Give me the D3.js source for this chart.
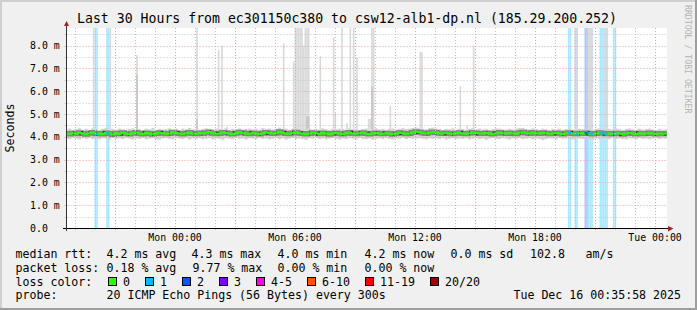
<!DOCTYPE html>
<html>
<head>
<meta charset="utf-8">
<script src="https://cdn.jsdelivr.net/npm/d3@7"></script>
<style>
body { margin: 0; background: #ffffff; }
svg { display: block; font-family: "DejaVu Sans Mono", monospace; }
</style>
</head>
<body>
<div id="chart"></div>
<script>
var titleText = "Last 30 Hours from ec301150c380 to csw12-alb1-dp.nl (185.29.200.252)";
var graphStart = "2025-12-14 18:35:58";
var graphEnd = "2025-12-16 00:35:58";

// 10 minute steps, first one starts here
var stepStart = "2025-12-14 18:30";

// median rtt in ms
var median = [
4.15,4.12,4.16,4.13,4.18,4.14,4.11,4.16,4.19,4.13,
4.15,4.12,4.17,4.14,4.10,4.16,4.13,4.18,4.15,4.12,
4.16,4.19,4.14,4.12,4.17,4.15,4.11,4.14,4.18,4.16,
4.13,4.15,4.20,4.17,4.14,4.12,4.16,4.19,4.15,4.13,
4.17,4.14,4.18,4.21,4.16,4.13,4.15,4.19,4.17,4.14,
4.12,4.16,4.20,4.18,4.15,4.13,4.17,4.15,4.12,4.16,
4.19,4.17,4.14,4.16,4.22,4.18,4.15,4.13,4.17,4.20,
4.16,4.14,4.12,4.15,4.18,4.16,4.13,4.17,4.15,4.11,
4.14,4.17,4.15,4.12,4.16,4.19,4.14,4.13,4.16,4.18,
4.15,4.12,4.14,4.17,4.15,4.13,4.16,4.14,4.11,4.15,
4.18,4.16,4.13,4.15,4.19,4.22,4.20,4.17,4.15,4.18,
4.21,4.19,4.16,4.14,4.17,4.15,4.13,4.16,4.18,4.15,
4.13,4.16,4.19,4.17,4.15,4.14,4.17,4.15,4.12,4.16,
4.19,4.16,4.14,4.17,4.15,4.13,4.18,4.20,4.17,4.15,
4.19,4.16,4.14,4.18,4.16,4.13,4.15,4.17,4.14,4.12,
4.16,4.18,4.15,4.13,4.16,4.14,4.17,4.15,4.12,4.15,
4.18,4.16,4.13,4.15,4.12,4.16,4.14,4.11,4.15,4.17,
4.14,4.12,4.16,4.13,4.15,4.17,4.14,4.12,4.15,4.13,
4.15];

// lowest and highest ping of the smoke, same steps
var smokeLo = [
3.93,3.90,3.95,3.92,3.88,3.94,3.91,3.96,3.90,3.93,
3.89,3.94,3.92,3.87,3.95,3.91,3.93,3.90,3.96,3.92,
3.88,3.93,3.91,3.95,3.89,3.92,3.94,3.90,3.87,3.93,
3.95,3.91,3.89,3.94,3.92,3.90,3.96,3.88,3.93,3.91,
3.94,3.90,3.92,3.95,3.89,3.93,3.91,3.87,3.94,3.92,
3.90,3.95,3.91,3.93,3.88,3.94,3.92,3.90,3.96,3.91,
3.93,3.89,3.92,3.95,3.90,3.94,3.88,3.92,3.95,3.91,
3.93,3.90,3.87,3.94,3.92,3.96,3.90,3.93,3.89,3.92,
3.95,3.91,3.88,3.93,3.90,3.94,3.92,3.89,3.95,3.91,
3.90,3.93,3.87,3.92,3.94,3.90,3.95,3.91,3.88,3.93,
3.92,3.96,3.90,3.94,3.91,3.93,3.95,3.92,3.89,3.94,
3.91,3.93,3.90,3.95,3.88,3.92,3.94,3.90,3.93,3.91,
3.95,3.89,3.92,3.94,3.90,3.93,3.87,3.92,3.95,3.91,
3.90,3.94,3.92,3.88,3.93,3.91,3.95,3.90,3.92,3.94,
3.89,3.93,3.91,3.86,3.90,3.94,3.92,3.89,3.95,3.91,
3.93,3.90,3.88,3.94,3.92,3.90,3.95,3.91,3.87,3.93,
3.90,3.94,3.92,3.89,3.95,3.91,3.93,3.90,3.88,3.94,
3.92,3.90,3.95,3.91,3.93,3.89,3.92,3.94,3.90,3.93,
3.92];

var smokeHi = [
4.32,4.36,4.30,4.34,4.38,4.31,4.35,4.29,4.37,4.33,
4.30,4.35,4.39,4.32,4.34,4.31,4.36,4.33,4.29,4.35,
4.37,4.32,4.34,4.30,4.36,4.33,4.38,4.31,4.35,4.32,
4.34,4.37,4.31,4.35,4.30,4.36,4.33,4.39,4.32,4.34,
4.31,4.35,4.37,4.33,4.30,4.36,4.34,4.32,4.38,4.31,
4.35,4.33,4.37,4.30,4.34,4.36,4.32,4.35,4.31,4.38,
4.34,4.36,4.32,4.35,4.40,4.33,4.36,4.31,4.35,4.38,
4.33,4.30,4.34,4.36,4.32,4.35,4.31,4.37,4.33,4.30,
4.35,4.32,4.36,4.34,4.31,4.37,4.33,4.35,4.30,4.34,
4.36,4.31,4.33,4.37,4.32,4.35,4.30,4.34,4.36,4.32,
4.35,4.38,4.34,4.36,4.39,4.41,4.37,4.35,4.33,4.38,
4.40,4.36,4.34,4.31,4.35,4.33,4.37,4.32,4.36,4.34,
4.31,4.35,4.38,4.33,4.36,4.32,4.35,4.30,4.34,4.37,
4.36,4.33,4.31,4.35,4.32,4.36,4.38,4.39,4.34,4.32,
4.37,4.34,4.31,4.36,4.33,4.30,4.35,4.32,4.36,4.31,
4.34,4.37,4.32,4.30,4.35,4.33,4.36,4.32,4.30,4.34,
4.37,4.33,4.31,4.35,4.32,4.36,4.33,4.30,4.34,4.36,
4.32,4.30,4.35,4.31,4.34,4.36,4.32,4.30,4.34,4.31,
4.33];

// 5 minute steps with a slow ping (max), mid = second slowest (0 = none)
var spikeTimes = [
"2025-12-14 19:55","2025-12-14 20:45","2025-12-14 22:05",
"2025-12-15 01:05","2025-12-15 02:10","2025-12-15 02:20","2025-12-15 02:35",
"2025-12-15 05:25","2025-12-15 05:55","2025-12-15 06:00","2025-12-15 06:05","2025-12-15 06:10","2025-12-15 06:15","2025-12-15 06:20","2025-12-15 06:25","2025-12-15 06:30","2025-12-15 06:35","2025-12-15 06:40",
"2025-12-15 07:15","2025-12-15 07:55","2025-12-15 08:00","2025-12-15 08:20","2025-12-15 08:35","2025-12-15 08:45","2025-12-15 08:55","2025-12-15 09:05",
"2025-12-15 09:40","2025-12-15 09:45","2025-12-15 09:50","2025-12-15 09:55","2025-12-15 10:45",
"2025-12-15 12:15","2025-12-15 12:20","2025-12-15 14:15","2025-12-15 14:35","2025-12-15 14:55",
"2025-12-15 20:00","2025-12-15 20:05","2025-12-15 20:40","2025-12-15 20:45","2025-12-15 20:50","2025-12-15 21:25","2025-12-15 21:35"];
var spikeMax = [
9.5,9.5,7.59,
9.5,7.8,8.0,4.44,
8.1,7.3,9.5,9.5,9.5,9.5,9.5,8.0,9.5,9.5,9.5,
7.54,8.35,5.04,9.5,4.6,9.5,9.5,7.47,
4.78,4.78,9.5,9.5,5.35,
7.73,7.7,6.23,4.5,8.0,
9.5,9.5,9.5,9.5,9.5,9.5,9.5];
var spikeMid = [
0,0,6.74,
4.78,0,0,0,
0,0,0,0,0,0,0,0,0,4.9,4.9,
0,0,0,0,0,0,0,0,
0,0,6.2,0,0,
0,0,0,0,0,
0,0,0,0,0,0,0];

// 5 minute steps with lost pings (out of 20)
var lossTimes = [
"2025-12-14 20:00","2025-12-14 20:05","2025-12-14 20:35","2025-12-14 20:40",
"2025-12-15 19:40","2025-12-15 19:45","2025-12-15 20:00","2025-12-15 20:05",
"2025-12-15 20:30","2025-12-15 20:35","2025-12-15 20:40","2025-12-15 20:45","2025-12-15 20:50",
"2025-12-15 21:15","2025-12-15 21:20","2025-12-15 21:25","2025-12-15 21:30","2025-12-15 21:35",
"2025-12-15 21:55","2025-12-15 22:00"];
var lossCounts = [1,1,1,1, 1,1,1,1, 2,2,1,1,1, 1,1,1,1,1, 1,1];

var yTicks = [0,1,2,3,4,5,6,7,8];
var yMax = 8.772;

var lossLabels = ["0","1","2","3","4-5","6-10","11-19","20/20"];
var lossColors = ["#26ff00","#00b8ff","#0059ff","#7e00ff","#ff00ff","#ff5500","#ff0000","#a10000"];

var rttStats = ["4.2 ms avg","4.3 ms max","4.0 ms min","4.2 ms now","0.0 ms sd","102.8","am/s"];
var lossStats = ["0.18 % avg","9.77 % max","0.00 % min","0.00 % now"];
var probeText = "20 ICMP Echo Pings (56 Bytes) every 300s";
var stampText = "Tue Dec 16 00:35:58 2025";

var chart = {
    width: 697,
    height: 310,
    left: 66.5,
    right: 666.5,
    top: 28,
    bottom: 228,
    svg: null,
    plot: null,
    x: null,
    y: null
};

var parseMin = d3.timeParse("%Y-%m-%d %H:%M");
var parseSec = d3.timeParse("%Y-%m-%d %H:%M:%S");

function lossIndex(n) {
    if (n <= 3) return n;
    if (n <= 5) return 4;
    if (n <= 10) return 5;
    if (n <= 19) return 6;
    return 7;
}

function stepTime(i) {
    return d3.timeMinute.offset(parseMin(stepStart), 10 * i);
}

function stepOf(t) {
    var i = Math.floor((t - parseMin(stepStart)) / 600000);
    return Math.max(0, Math.min(median.length - 1, i));
}

chart.drawFrame = function() {
    var svg = chart.svg;
    svg.append("rect")
        .attr("width", chart.width)
        .attr("height", chart.height)
        .attr("fill", "#f0f0f0");
    svg.append("rect").attr("x", 0).attr("y", 0).attr("width", chart.width).attr("height", 2).attr("fill", "#cfcfcf");
    svg.append("rect").attr("x", 0).attr("y", 0).attr("width", 2).attr("height", chart.height).attr("fill", "#cfcfcf");
    svg.append("rect").attr("x", chart.width - 2).attr("y", 0).attr("width", 2).attr("height", chart.height).attr("fill", "#9e9e9e");
    svg.append("rect").attr("x", 0).attr("y", chart.height - 2).attr("width", chart.width).attr("height", 2).attr("fill", "#9e9e9e");

    svg.append("rect")
        .attr("x", 67)
        .attr("y", chart.top)
        .attr("width", 600)
        .attr("height", chart.bottom - chart.top)
        .attr("fill", "#ffffff");

    svg.append("defs").append("clipPath")
        .attr("id", "plotClip")
        .append("rect")
        .attr("x", 67)
        .attr("y", chart.top)
        .attr("width", 600)
        .attr("height", chart.bottom - chart.top);

    svg.append("text")
        .attr("x", 347)
        .attr("y", 23)
        .attr("text-anchor", "middle")
        .style("font-size", "13.2px")
        .text(titleText);

    svg.append("text")
        .attr("transform", "translate(14,128)rotate(-90)")
        .attr("text-anchor", "middle")
        .style("font-size", "11.6px")
        .text("Seconds");

    svg.append("text")
        .attr("transform", "translate(684.5,5)rotate(90)")
        .attr("fill", "#b4b4b4")
        .style("font-size", "8.2px")
        .text("RRDTOOL / TOBI OETIKER");
};

chart.drawData = function() {
    var x = chart.x, y = chart.y;
    var plot = chart.svg.append("g").attr("clip-path", "url(#plotClip)");
    chart.plot = plot;

    // loss background, full height
    plot.selectAll("rect.lossbg")
        .data(lossTimes).enter()
        .append("rect")
        .attr("class", "lossbg")
        .attr("x", function(d) { return x(parseMin(d)); })
        .attr("width", function(d) { var t = parseMin(d); return x(d3.timeMinute.offset(t, 5)) - x(t); })
        .attr("y", chart.top)
        .attr("height", chart.bottom - chart.top)
        .attr("fill", function(d, i) {
            return d3.interpolateRgb("#ffffff", lossColors[lossIndex(lossCounts[i])])(0.33);
        });

    // slow pings
    plot.selectAll("rect.spike")
        .data(spikeTimes).enter()
        .append("rect")
        .attr("class", "spike")
        .attr("x", function(d) { return x(parseMin(d)); })
        .attr("width", function(d) { var t = parseMin(d); return x(d3.timeMinute.offset(t, 5)) - x(t); })
        .attr("y", function(d, i) { return y(spikeMax[i]); })
        .attr("height", function(d, i) { return y(smokeHi[stepOf(parseMin(d))]) - y(spikeMax[i]); })
        .attr("fill", "#dadada");

    plot.selectAll("rect.spikemid")
        .data(spikeTimes.filter(function(d, i) { return spikeMid[i] > 0; })).enter()
        .append("rect")
        .attr("class", "spikemid")
        .attr("x", function(d) { return x(parseMin(d)); })
        .attr("width", function(d) { var t = parseMin(d); return x(d3.timeMinute.offset(t, 5)) - x(t); })
        .attr("y", function(d) { return y(spikeMid[spikeTimes.indexOf(d)]); })
        .attr("height", function(d) { return y(smokeHi[stepOf(parseMin(d))]) - y(spikeMid[spikeTimes.indexOf(d)]); })
        .attr("fill", "#c6c6c6");

    // smoke
    plot.selectAll("rect.smoke")
        .data(median).enter()
        .append("rect")
        .attr("class", "smoke")
        .attr("x", function(d, i) { return x(stepTime(i)); })
        .attr("width", function(d, i) { return x(stepTime(i + 1)) - x(stepTime(i)); })
        .attr("y", function(d, i) { return y(smokeHi[i]); })
        .attr("height", function(d, i) { return y(smokeLo[i]) - y(smokeHi[i]); })
        .attr("fill", "#d2d2d2");

    var pts = median.map(function(v, i) { return [stepTime(i), v]; });
    pts.push([stepTime(median.length), median[median.length - 1]]);

    var line = d3.line()
        .curve(d3.curveStepAfter)
        .x(function(d) { return x(d[0]); })
        .y(function(d) { return y(d[1]); });

    plot.append("path")
        .datum(pts)
        .attr("d", line)
        .attr("fill", "none")
        .attr("stroke", "#858585")
        .attr("stroke-width", 5);

    plot.append("path")
        .datum(pts)
        .attr("d", line)
        .attr("fill", "none")
        .attr("stroke", "#2a2a2a")
        .attr("stroke-width", 3.5)
        .attr("stroke-dasharray", "1,9");

    plot.append("path")
        .datum(pts)
        .attr("d", line)
        .attr("fill", "none")
        .attr("stroke", lossColors[0])
        .attr("stroke-width", 2);

    // median coloured by loss
    plot.selectAll("line.lossmed")
        .data(lossTimes).enter()
        .append("line")
        .attr("class", "lossmed")
        .attr("x1", function(d) { return x(parseMin(d)); })
        .attr("x2", function(d) { return x(d3.timeMinute.offset(parseMin(d), 5)); })
        .attr("y1", function(d) { return y(median[stepOf(parseMin(d))]); })
        .attr("y2", function(d) { return y(median[stepOf(parseMin(d))]); })
        .attr("stroke", function(d, i) { return lossColors[lossIndex(lossCounts[i])]; })
        .attr("stroke-width", 2);
};

chart.drawGrid = function() {
    var x = chart.x, y = chart.y, svg = chart.svg;
    var g = svg.append("g");

    var hours = x.ticks(d3.timeHour.every(1));
    g.selectAll("line.vgrid")
        .data(hours).enter()
        .append("line")
        .attr("x1", function(d) { return Math.round(x(d)) + 0.5; })
        .attr("x2", function(d) { return Math.round(x(d)) + 0.5; })
        .attr("y1", chart.top)
        .attr("y2", chart.bottom + 3)
        .attr("stroke", function(d) { return d.getHours() % 3 === 0 ? "#f29c9c" : "#c4c4c4"; })
        .attr("stroke-dasharray", "1,2");

    var halves = d3.range(1, 18).map(function(k) { return k / 2; });
    g.selectAll("line.hgrid")
        .data(halves).enter()
        .append("line")
        .attr("x1", chart.left - 2)
        .attr("x2", chart.right)
        .attr("y1", function(d) { return Math.round(y(d)) + 0.5; })
        .attr("y2", function(d) { return Math.round(y(d)) + 0.5; })
        .attr("stroke", function(d) { return d % 1 === 0 ? "#f29c9c" : "#c4c4c4"; })
        .attr("stroke-dasharray", "1,2");
};

chart.drawAxes = function() {
    var x = chart.x, y = chart.y, svg = chart.svg;

    svg.append("line")
        .attr("x1", 63).attr("x2", 669)
        .attr("y1", chart.bottom + 0.5).attr("y2", chart.bottom + 0.5)
        .attr("stroke", "#000");
    svg.append("line")
        .attr("x1", chart.left).attr("x2", chart.left)
        .attr("y1", chart.bottom + 3).attr("y2", 25)
        .attr("stroke", "#333");

    svg.append("path")
        .attr("d", "M64,26L69,26L66.5,21Z")
        .attr("fill", "#a41e1e");
    svg.append("path")
        .attr("d", "M668,226L668,231.5L673.5,228.5Z")
        .attr("fill", "#a41e1e");

    var xAxis = d3.axisBottom(x)
        .ticks(d3.timeHour.every(6))
        .tickSize(0)
        .tickPadding(0)
        .tickFormat(d3.timeFormat("%a %H:%M"));
    var gx = svg.append("g")
        .attr("transform", "translate(0," + chart.bottom + ")")
        .call(xAxis);
    gx.select(".domain").remove();
    gx.selectAll("text")
        .attr("y", 13)
        .attr("dy", 0)
        .attr("fill", "#000")
        .style("font-family", "DejaVu Sans Mono")
        .style("font-size", "9.9px");

    var yAxis = d3.axisLeft(y)
        .tickValues(yTicks)
        .tickSize(0)
        .tickFormat(function(d) { return d === 0 ? "0.0" : d3.format(".1f")(d) + " m"; });
    var gy = svg.append("g")
        .attr("transform", "translate(" + chart.left + ",0)")
        .call(yAxis);
    gy.select(".domain").remove();
    gy.selectAll("text")
        .attr("x", 30 - chart.left)
        .attr("text-anchor", "start")
        .attr("fill", "#000")
        .style("font-family", "DejaVu Sans Mono")
        .style("font-size", "9.9px");
};

chart.drawLegend = function() {
    var svg = chart.svg;
    var g = svg.append("g").style("font-size", "11.6px").attr("fill", "#000");
    var rttX = [106.5, 191.5, 277.5, 364.5, 450.5, 530, 585.5];
    var lossX = [106.5, 192.5, 277.5, 364.5];
    var boxX = [108.5, 145.5, 182.5, 219.5, 256.5, 307.5, 365.5, 430.5];

    g.append("text").attr("x", 15.5).attr("y", 258).text("median rtt:");
    g.selectAll("text.rtt")
        .data(rttStats).enter()
        .append("text")
        .attr("x", function(d, i) { return rttX[i]; })
        .attr("y", 258)
        .text(function(d) { return d; });

    g.append("text").attr("x", 15.5).attr("y", 271.7).text("packet loss:");
    g.selectAll("text.loss")
        .data(lossStats).enter()
        .append("text")
        .attr("x", function(d, i) { return lossX[i]; })
        .attr("y", 271.7)
        .text(function(d) { return d; });

    g.append("text").attr("x", 15.5).attr("y", 285.5).text("loss color:");
    g.selectAll("rect.box")
        .data(lossColors).enter()
        .append("rect")
        .attr("x", function(d, i) { return boxX[i]; })
        .attr("y", 277.5)
        .attr("width", 8)
        .attr("height", 8)
        .attr("fill", function(d) { return d; })
        .attr("stroke", "#000");
    g.selectAll("text.lc")
        .data(lossLabels).enter()
        .append("text")
        .attr("x", function(d, i) { return boxX[i] + 14.5; })
        .attr("y", 285.5)
        .text(function(d) { return d; });

    g.append("text").attr("x", 15.5).attr("y", 299).text("probe:");
    g.append("text").attr("x", 106.5).attr("y", 299).text(probeText);
    g.append("text").attr("x", 681).attr("y", 299).attr("text-anchor", "end").text(stampText);
};

chart.create = function() {
    chart.svg = d3.select("#chart").append("svg")
        .attr("width", chart.width)
        .attr("height", chart.height);

    chart.x = d3.scaleTime()
        .domain([parseSec(graphStart), parseSec(graphEnd)])
        .range([chart.left, chart.right]);
    chart.y = d3.scaleLinear()
        .domain([0, yMax])
        .range([chart.bottom, chart.top]);

    chart.drawFrame();
    chart.drawData();
    chart.drawGrid();
    chart.drawAxes();
    chart.drawLegend();
};

chart.create();
</script>
</body>
</html>
